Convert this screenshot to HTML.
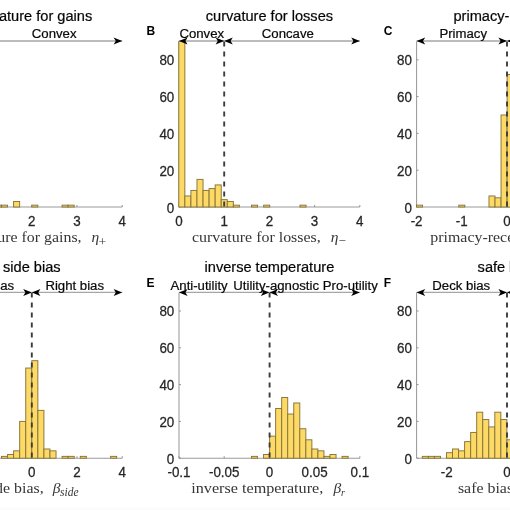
<!DOCTYPE html><html><head><meta charset="utf-8"><style>
html,body{margin:0;padding:0;background:#fff;width:510px;height:510px;overflow:hidden}
svg{display:block;will-change:transform}
text{font-family:"Liberation Sans",sans-serif;fill:#262626}
.tk,.ti,.an{stroke:#262626;stroke-width:0.25}
.tk{font-size:13.4px}
.ti{font-size:14.6px;fill:#000}
.an{font-size:13.2px;fill:#000}
.le{font-size:12.0px;font-weight:bold;fill:#000}
.xl{font-family:"Liberation Serif",serif;font-size:14.6px;fill:#363636}
.sy{font-style:italic;font-size:15.5px}
.sb{font-size:10px}
.bar{fill:#FDDA66;stroke:#86743a;stroke-width:0.95}
.ax{stroke:#9a9a9a;stroke-width:1.1;fill:none}
.ay{stroke:#8a8a8a;stroke-width:0.9;fill:none}
.al{stroke:#a6a6a6;stroke-width:1.3}
.ah{fill:#000}
.ds{stroke:#3c3c3c;stroke-width:1.9;stroke-dasharray:5 5;stroke-dashoffset:0}
</style></head><body>
<svg width="510" height="510" viewBox="0 0 510 510">
<line x1="-58.6" y1="207" x2="122.2" y2="207" class="ax"/>
<line x1="-58.6" y1="207" x2="-58.6" y2="205" class="ax"/>
<line x1="-13.4" y1="207" x2="-13.4" y2="205" class="ax"/>
<line x1="31.8" y1="207" x2="31.8" y2="205" class="ax"/>
<line x1="77" y1="207" x2="77" y2="205" class="ax"/>
<line x1="122.2" y1="207" x2="122.2" y2="205" class="ax"/>
<text transform="translate(-58.6,225.7) scale(1,1.1)" class="tk" text-anchor="middle">0</text>
<text transform="translate(-13.4,225.7) scale(1,1.1)" class="tk" text-anchor="middle">1</text>
<text transform="translate(31.8,225.7) scale(1,1.1)" class="tk" text-anchor="middle">2</text>
<text transform="translate(77,225.7) scale(1,1.1)" class="tk" text-anchor="middle">3</text>
<text transform="translate(122.2,225.7) scale(1,1.1)" class="tk" text-anchor="middle">4</text>
<text transform="translate(-63.3,213.2) scale(1,1.1)" class="tk" text-anchor="end">0</text>
<text transform="translate(-63.3,176) scale(1,1.1)" class="tk" text-anchor="end">20</text>
<text transform="translate(-63.3,138.6) scale(1,1.1)" class="tk" text-anchor="end">40</text>
<text transform="translate(-63.3,101.9) scale(1,1.1)" class="tk" text-anchor="end">60</text>
<text transform="translate(-63.3,65.1) scale(1,1.1)" class="tk" text-anchor="end">80</text>
<rect x="-4.6" y="205.16" width="6.06" height="1.84" class="bar"/>
<rect x="1.46" y="205.16" width="6.06" height="1.84" class="bar"/>
<rect x="13.58" y="201.48" width="6.06" height="5.52" class="bar"/>
<rect x="31.76" y="205.16" width="6.06" height="1.84" class="bar"/>
<rect x="62.06" y="205.16" width="6.06" height="1.84" class="bar"/>
<rect x="68.12" y="205.16" width="6.06" height="1.84" class="bar"/>
<line x1="179" y1="207" x2="359.8" y2="207" class="ax"/>
<line x1="179" y1="207" x2="179" y2="205" class="ax"/>
<line x1="224.2" y1="207" x2="224.2" y2="205" class="ax"/>
<line x1="269.4" y1="207" x2="269.4" y2="205" class="ax"/>
<line x1="314.6" y1="207" x2="314.6" y2="205" class="ax"/>
<line x1="359.8" y1="207" x2="359.8" y2="205" class="ax"/>
<line x1="179" y1="207" x2="179" y2="41.4" class="ay"/>
<line x1="179" y1="207" x2="181" y2="207" class="ay"/>
<line x1="179" y1="170.2" x2="181" y2="170.2" class="ay"/>
<line x1="179" y1="133.4" x2="181" y2="133.4" class="ay"/>
<line x1="179" y1="96.6" x2="181" y2="96.6" class="ay"/>
<line x1="179" y1="59.8" x2="181" y2="59.8" class="ay"/>
<text transform="translate(179,225.7) scale(1,1.1)" class="tk" text-anchor="middle">0</text>
<text transform="translate(224.2,225.7) scale(1,1.1)" class="tk" text-anchor="middle">1</text>
<text transform="translate(269.4,225.7) scale(1,1.1)" class="tk" text-anchor="middle">2</text>
<text transform="translate(314.6,225.7) scale(1,1.1)" class="tk" text-anchor="middle">3</text>
<text transform="translate(359.8,225.7) scale(1,1.1)" class="tk" text-anchor="middle">4</text>
<text transform="translate(174.3,213.2) scale(1,1.1)" class="tk" text-anchor="end">0</text>
<text transform="translate(174.3,176) scale(1,1.1)" class="tk" text-anchor="end">20</text>
<text transform="translate(174.3,138.6) scale(1,1.1)" class="tk" text-anchor="end">40</text>
<text transform="translate(174.3,101.9) scale(1,1.1)" class="tk" text-anchor="end">60</text>
<text transform="translate(174.3,65.1) scale(1,1.1)" class="tk" text-anchor="end">80</text>
<rect x="178.8" y="41.4" width="6.06" height="165.6" class="bar"/>
<rect x="184.86" y="195.96" width="6.06" height="11.04" class="bar"/>
<rect x="190.92" y="190.44" width="6.06" height="16.56" class="bar"/>
<rect x="196.98" y="179.4" width="6.06" height="27.6" class="bar"/>
<rect x="203.04" y="190.44" width="6.06" height="16.56" class="bar"/>
<rect x="209.1" y="188.6" width="6.06" height="18.4" class="bar"/>
<rect x="215.16" y="184.92" width="6.06" height="22.08" class="bar"/>
<rect x="221.22" y="199.64" width="6.06" height="7.36" class="bar"/>
<rect x="227.28" y="201.48" width="6.06" height="5.52" class="bar"/>
<rect x="233.34" y="205.16" width="6.06" height="1.84" class="bar"/>
<rect x="251.52" y="205.16" width="6.06" height="1.84" class="bar"/>
<rect x="263.64" y="205.16" width="6.06" height="1.84" class="bar"/>
<rect x="300" y="205.16" width="6.06" height="1.84" class="bar"/>
<line x1="224.2" y1="41.4" x2="224.2" y2="207" class="ds"/>
<line x1="416.6" y1="207" x2="597.4" y2="207" class="ax"/>
<line x1="416.6" y1="207" x2="416.6" y2="205" class="ax"/>
<line x1="461.8" y1="207" x2="461.8" y2="205" class="ax"/>
<line x1="507" y1="207" x2="507" y2="205" class="ax"/>
<line x1="552.2" y1="207" x2="552.2" y2="205" class="ax"/>
<line x1="597.4" y1="207" x2="597.4" y2="205" class="ax"/>
<line x1="416.6" y1="207" x2="416.6" y2="41.4" class="ay"/>
<line x1="416.6" y1="207" x2="418.6" y2="207" class="ay"/>
<line x1="416.6" y1="170.2" x2="418.6" y2="170.2" class="ay"/>
<line x1="416.6" y1="133.4" x2="418.6" y2="133.4" class="ay"/>
<line x1="416.6" y1="96.6" x2="418.6" y2="96.6" class="ay"/>
<line x1="416.6" y1="59.8" x2="418.6" y2="59.8" class="ay"/>
<text transform="translate(416.6,225.7) scale(1,1.1)" class="tk" text-anchor="middle">-2</text>
<text transform="translate(461.8,225.7) scale(1,1.1)" class="tk" text-anchor="middle">-1</text>
<text transform="translate(507,225.7) scale(1,1.1)" class="tk" text-anchor="middle">0</text>
<text transform="translate(552.2,225.7) scale(1,1.1)" class="tk" text-anchor="middle">1</text>
<text transform="translate(597.4,225.7) scale(1,1.1)" class="tk" text-anchor="middle">2</text>
<text transform="translate(411.9,213.2) scale(1,1.1)" class="tk" text-anchor="end">0</text>
<text transform="translate(411.9,176) scale(1,1.1)" class="tk" text-anchor="end">20</text>
<text transform="translate(411.9,138.6) scale(1,1.1)" class="tk" text-anchor="end">40</text>
<text transform="translate(411.9,101.9) scale(1,1.1)" class="tk" text-anchor="end">60</text>
<text transform="translate(411.9,65.1) scale(1,1.1)" class="tk" text-anchor="end">80</text>
<rect x="416.5" y="205.16" width="6.04" height="1.84" class="bar"/>
<rect x="458.78" y="205.16" width="6.04" height="1.84" class="bar"/>
<rect x="488.98" y="195.96" width="6.04" height="11.04" class="bar"/>
<rect x="495.02" y="197.8" width="6.04" height="9.2" class="bar"/>
<rect x="501.06" y="115" width="6.04" height="92" class="bar"/>
<rect x="507.1" y="74.52" width="6.04" height="132.48" class="bar"/>
<line x1="507" y1="41.4" x2="507" y2="207" class="ds"/>
<line x1="-58.6" y1="458.2" x2="122.2" y2="458.2" class="ax"/>
<line x1="-58.6" y1="458.2" x2="-58.6" y2="456.2" class="ax"/>
<line x1="-13.4" y1="458.2" x2="-13.4" y2="456.2" class="ax"/>
<line x1="31.8" y1="458.2" x2="31.8" y2="456.2" class="ax"/>
<line x1="77" y1="458.2" x2="77" y2="456.2" class="ax"/>
<line x1="122.2" y1="458.2" x2="122.2" y2="456.2" class="ax"/>
<text transform="translate(-58.6,476.9) scale(1,1.1)" class="tk" text-anchor="middle">-4</text>
<text transform="translate(-13.4,476.9) scale(1,1.1)" class="tk" text-anchor="middle">-2</text>
<text transform="translate(31.8,476.9) scale(1,1.1)" class="tk" text-anchor="middle">0</text>
<text transform="translate(77,476.9) scale(1,1.1)" class="tk" text-anchor="middle">2</text>
<text transform="translate(122.2,476.9) scale(1,1.1)" class="tk" text-anchor="middle">4</text>
<text transform="translate(-63.3,464.4) scale(1,1.1)" class="tk" text-anchor="end">0</text>
<text transform="translate(-63.3,427.2) scale(1,1.1)" class="tk" text-anchor="end">20</text>
<text transform="translate(-63.3,389.8) scale(1,1.1)" class="tk" text-anchor="end">40</text>
<text transform="translate(-63.3,353.1) scale(1,1.1)" class="tk" text-anchor="end">60</text>
<text transform="translate(-63.3,316.3) scale(1,1.1)" class="tk" text-anchor="end">80</text>
<rect x="1.5" y="456.36" width="6.06" height="1.84" class="bar"/>
<rect x="7.56" y="454.52" width="6.06" height="3.68" class="bar"/>
<rect x="13.62" y="450.84" width="6.06" height="7.36" class="bar"/>
<rect x="19.68" y="421.4" width="6.06" height="36.8" class="bar"/>
<rect x="25.74" y="368.04" width="6.06" height="90.16" class="bar"/>
<rect x="31.8" y="360.68" width="6.06" height="97.52" class="bar"/>
<rect x="37.86" y="410.36" width="6.06" height="47.84" class="bar"/>
<rect x="43.92" y="449" width="6.06" height="9.2" class="bar"/>
<rect x="49.98" y="450.84" width="6.06" height="7.36" class="bar"/>
<rect x="62.1" y="456.36" width="6.06" height="1.84" class="bar"/>
<rect x="68.16" y="456.36" width="6.06" height="1.84" class="bar"/>
<rect x="80.28" y="456.36" width="6.06" height="1.84" class="bar"/>
<rect x="110.58" y="456.36" width="6.06" height="1.84" class="bar"/>
<line x1="31.8" y1="292.6" x2="31.8" y2="458.2" class="ds"/>
<line x1="179" y1="458.2" x2="359.8" y2="458.2" class="ax"/>
<line x1="179" y1="458.2" x2="179" y2="456.2" class="ax"/>
<line x1="224.2" y1="458.2" x2="224.2" y2="456.2" class="ax"/>
<line x1="269.4" y1="458.2" x2="269.4" y2="456.2" class="ax"/>
<line x1="314.6" y1="458.2" x2="314.6" y2="456.2" class="ax"/>
<line x1="359.8" y1="458.2" x2="359.8" y2="456.2" class="ax"/>
<line x1="179" y1="458.2" x2="179" y2="292.6" class="ay"/>
<line x1="179" y1="458.2" x2="181" y2="458.2" class="ay"/>
<line x1="179" y1="421.4" x2="181" y2="421.4" class="ay"/>
<line x1="179" y1="384.6" x2="181" y2="384.6" class="ay"/>
<line x1="179" y1="347.8" x2="181" y2="347.8" class="ay"/>
<line x1="179" y1="311" x2="181" y2="311" class="ay"/>
<text transform="translate(179,476.9) scale(1,1.1)" class="tk" text-anchor="middle">-0.1</text>
<text transform="translate(224.2,476.9) scale(1,1.1)" class="tk" text-anchor="middle">-0.05</text>
<text transform="translate(269.4,476.9) scale(1,1.1)" class="tk" text-anchor="middle">0</text>
<text transform="translate(314.6,476.9) scale(1,1.1)" class="tk" text-anchor="middle">0.05</text>
<text transform="translate(359.8,476.9) scale(1,1.1)" class="tk" text-anchor="middle">0.1</text>
<text transform="translate(174.3,464.4) scale(1,1.1)" class="tk" text-anchor="end">0</text>
<text transform="translate(174.3,427.2) scale(1,1.1)" class="tk" text-anchor="end">20</text>
<text transform="translate(174.3,389.8) scale(1,1.1)" class="tk" text-anchor="end">40</text>
<text transform="translate(174.3,353.1) scale(1,1.1)" class="tk" text-anchor="end">60</text>
<text transform="translate(174.3,316.3) scale(1,1.1)" class="tk" text-anchor="end">80</text>
<rect x="251.48" y="456.36" width="6.04" height="1.84" class="bar"/>
<rect x="263.56" y="454.52" width="6.04" height="3.68" class="bar"/>
<rect x="269.6" y="436.12" width="6.04" height="22.08" class="bar"/>
<rect x="275.64" y="408.52" width="6.04" height="49.68" class="bar"/>
<rect x="281.68" y="397.48" width="6.04" height="60.72" class="bar"/>
<rect x="287.72" y="414.04" width="6.04" height="44.16" class="bar"/>
<rect x="293.76" y="403" width="6.04" height="55.2" class="bar"/>
<rect x="299.8" y="428.76" width="6.04" height="29.44" class="bar"/>
<rect x="305.84" y="439.8" width="6.04" height="18.4" class="bar"/>
<rect x="311.88" y="449" width="6.04" height="9.2" class="bar"/>
<rect x="317.92" y="450.84" width="6.04" height="7.36" class="bar"/>
<rect x="323.96" y="456.36" width="6.04" height="1.84" class="bar"/>
<rect x="330" y="454.52" width="6.04" height="3.68" class="bar"/>
<rect x="342.08" y="456.36" width="6.04" height="1.84" class="bar"/>
<line x1="269.6" y1="292.6" x2="269.6" y2="458.2" class="ds"/>
<line x1="416.6" y1="458.2" x2="597.4" y2="458.2" class="ax"/>
<line x1="446.73" y1="458.2" x2="446.73" y2="456.2" class="ax"/>
<line x1="507" y1="458.2" x2="507" y2="456.2" class="ax"/>
<line x1="567.27" y1="458.2" x2="567.27" y2="456.2" class="ax"/>
<line x1="416.6" y1="458.2" x2="416.6" y2="292.6" class="ay"/>
<line x1="416.6" y1="458.2" x2="418.6" y2="458.2" class="ay"/>
<line x1="416.6" y1="421.4" x2="418.6" y2="421.4" class="ay"/>
<line x1="416.6" y1="384.6" x2="418.6" y2="384.6" class="ay"/>
<line x1="416.6" y1="347.8" x2="418.6" y2="347.8" class="ay"/>
<line x1="416.6" y1="311" x2="418.6" y2="311" class="ay"/>
<text transform="translate(446.73,476.9) scale(1,1.1)" class="tk" text-anchor="middle">-2</text>
<text transform="translate(507,476.9) scale(1,1.1)" class="tk" text-anchor="middle">0</text>
<text transform="translate(567.27,476.9) scale(1,1.1)" class="tk" text-anchor="middle">2</text>
<text transform="translate(411.9,464.4) scale(1,1.1)" class="tk" text-anchor="end">0</text>
<text transform="translate(411.9,427.2) scale(1,1.1)" class="tk" text-anchor="end">20</text>
<text transform="translate(411.9,389.8) scale(1,1.1)" class="tk" text-anchor="end">40</text>
<text transform="translate(411.9,353.1) scale(1,1.1)" class="tk" text-anchor="end">60</text>
<text transform="translate(411.9,316.3) scale(1,1.1)" class="tk" text-anchor="end">80</text>
<rect x="422.34" y="456.36" width="6.04" height="1.84" class="bar"/>
<rect x="428.38" y="456.36" width="6.04" height="1.84" class="bar"/>
<rect x="434.42" y="456.36" width="6.04" height="1.84" class="bar"/>
<rect x="446.5" y="452.68" width="6.04" height="5.52" class="bar"/>
<rect x="452.54" y="449" width="6.04" height="9.2" class="bar"/>
<rect x="458.58" y="450.84" width="6.04" height="7.36" class="bar"/>
<rect x="464.62" y="441.64" width="6.04" height="16.56" class="bar"/>
<rect x="470.66" y="432.44" width="6.04" height="25.76" class="bar"/>
<rect x="476.7" y="412.2" width="6.04" height="46" class="bar"/>
<rect x="482.74" y="419.56" width="6.04" height="38.64" class="bar"/>
<rect x="488.78" y="426.92" width="6.04" height="31.28" class="bar"/>
<rect x="494.82" y="412.2" width="6.04" height="46" class="bar"/>
<rect x="500.86" y="419.56" width="6.04" height="38.64" class="bar"/>
<rect x="506.9" y="439.8" width="6.04" height="18.4" class="bar"/>
<line x1="507" y1="292.6" x2="507" y2="458.2" class="ds"/>
<line x1="-13.4" y1="41" x2="122.2" y2="41" class="al"/>
<path d="M-13.4,41 L-4.8,37.5 L-7,41 L-4.8,44.5 Z" class="ah"/>
<path d="M122.2,41 L113.6,37.5 L115.8,41 L113.6,44.5 Z" class="ah"/>
<line x1="179" y1="41" x2="224.2" y2="41" class="al"/>
<path d="M179,41 L187.6,37.5 L185.4,41 L187.6,44.5 Z" class="ah"/>
<path d="M224.2,41 L215.6,37.5 L217.8,41 L215.6,44.5 Z" class="ah"/>
<line x1="224.2" y1="41" x2="359.8" y2="41" class="al"/>
<path d="M224.2,41 L232.8,37.5 L230.6,41 L232.8,44.5 Z" class="ah"/>
<path d="M359.8,41 L351.2,37.5 L353.4,41 L351.2,44.5 Z" class="ah"/>
<line x1="416.6" y1="41" x2="507" y2="41" class="al"/>
<path d="M416.6,41 L425.2,37.5 L423,41 L425.2,44.5 Z" class="ah"/>
<path d="M507,41 L498.4,37.5 L500.6,41 L498.4,44.5 Z" class="ah"/>
<line x1="507" y1="41" x2="597.4" y2="41" class="al"/>
<path d="M507,41 L515.6,37.5 L513.4,41 L515.6,44.5 Z" class="ah"/>
<path d="M597.4,41 L588.8,37.5 L591,41 L588.8,44.5 Z" class="ah"/>
<line x1="-58.6" y1="292.4" x2="31.8" y2="292.4" class="al"/>
<path d="M-58.6,292.4 L-50,288.9 L-52.2,292.4 L-50,295.9 Z" class="ah"/>
<path d="M31.8,292.4 L23.2,288.9 L25.4,292.4 L23.2,295.9 Z" class="ah"/>
<line x1="31.8" y1="292.4" x2="122.2" y2="292.4" class="al"/>
<path d="M31.8,292.4 L40.4,288.9 L38.2,292.4 L40.4,295.9 Z" class="ah"/>
<path d="M122.2,292.4 L113.6,288.9 L115.8,292.4 L113.6,295.9 Z" class="ah"/>
<line x1="179" y1="292.4" x2="269.4" y2="292.4" class="al"/>
<path d="M179,292.4 L187.6,288.9 L185.4,292.4 L187.6,295.9 Z" class="ah"/>
<path d="M269.4,292.4 L260.8,288.9 L263,292.4 L260.8,295.9 Z" class="ah"/>
<line x1="269.4" y1="292.4" x2="359.8" y2="292.4" class="al"/>
<path d="M269.4,292.4 L278,288.9 L275.8,292.4 L278,295.9 Z" class="ah"/>
<path d="M359.8,292.4 L351.2,288.9 L353.4,292.4 L351.2,295.9 Z" class="ah"/>
<line x1="416.6" y1="292.4" x2="507" y2="292.4" class="al"/>
<path d="M416.6,292.4 L425.2,288.9 L423,292.4 L425.2,295.9 Z" class="ah"/>
<path d="M507,292.4 L498.4,288.9 L500.6,292.4 L498.4,295.9 Z" class="ah"/>
<line x1="507" y1="292.4" x2="597.4" y2="292.4" class="al"/>
<path d="M507,292.4 L515.6,288.9 L513.4,292.4 L515.6,295.9 Z" class="ah"/>
<path d="M597.4,292.4 L588.8,288.9 L591,292.4 L588.8,295.9 Z" class="ah"/>
<text transform="translate(31.8,21.2) scale(1.0,0.96)" class="ti" text-anchor="middle">curvature for gains</text>
<text transform="translate(269.4,21.2) scale(1.0,0.96)" class="ti" text-anchor="middle">curvature for losses</text>
<text transform="translate(507,21.2) scale(1.0,0.96)" class="ti" text-anchor="middle">primacy-recency</text>
<text transform="translate(31.8,272.4) scale(1.0,0.96)" class="ti" text-anchor="middle">side bias</text>
<text transform="translate(269.4,272.4) scale(1.0,0.96)" class="ti" text-anchor="middle">inverse temperature</text>
<text transform="translate(477.6,272.4) scale(1.0,0.96)" class="ti">safe</text>
<text transform="translate(509,272.4) scale(1.0,0.96)" class="ti">bias</text>
<text transform="translate(146.6,35.3) scale(1.0,1.0)" class="le">B</text>
<text transform="translate(383.8,35.3) scale(1.0,1.0)" class="le">C</text>
<text transform="translate(146.6,286.8) scale(1.0,1.0)" class="le">E</text>
<text transform="translate(383.8,286.8) scale(1.0,1.0)" class="le">F</text>
<text transform="translate(31.8,38) scale(1.0,0.93)" class="an">Convex</text>
<text transform="translate(179.4,38) scale(1.0,0.93)" class="an">Convex</text>
<text transform="translate(261.8,38) scale(1.0,0.93)" class="an">Concave</text>
<text transform="translate(439.4,38) scale(1.0,0.93)" class="an">Primacy</text>
<text transform="translate(14.1,289.8) scale(1.0,0.93)" class="an" text-anchor="end">Left bias</text>
<text transform="translate(45.4,289.8) scale(1.0,0.93)" class="an">Right bias</text>
<text transform="translate(170.5,289.8) scale(1.0,0.93)" class="an">Anti-utility</text>
<text transform="translate(233.3,289.8) scale(1.0,0.93)" class="an">Utility-agnostic</text>
<text transform="translate(322.8,289.8) scale(1.0,0.93)" class="an">Pro-utility</text>
<text transform="translate(432.3,289.8) scale(1.0,0.93)" class="an">Deck bias</text>
<text transform="translate(81.6,241.7) scale(1.09,1)" class="xl" text-anchor="end">curvature for gains,</text>
<text x="91.6" y="241.7" class="xl sy">η</text>
<text x="98.5" y="245.7" class="xl sb"><tspan font-size="13.5">+</tspan></text>
<text transform="translate(320.8,241.7) scale(1.093,1)" class="xl" text-anchor="end">curvature for losses,</text>
<text x="330.7" y="241.7" class="xl sy">η</text>
<text x="338.6" y="245" class="xl sb"><tspan font-size="13">−</tspan></text>
<text transform="translate(430.3,241.7) scale(1.09,1)" class="xl">primacy-recency bias,</text>
<text transform="translate(43.7,493.3) scale(1.09,1)" class="xl" text-anchor="end">side bias,</text>
<text x="52.8" y="493.3" class="xl sy">β</text>
<text x="60" y="495.9" class="xl sb" font-style="italic"><tspan font-size="11.5">side</tspan></text>
<text transform="translate(323.3,493.3) scale(1.109,1)" class="xl" text-anchor="end">inverse temperature,</text>
<text x="333.5" y="493.3" class="xl sy">β</text>
<text x="341" y="495.9" class="xl sb" font-style="italic">r</text>
<text transform="translate(457.9,493.3) scale(1.09,1)" class="xl">safe bias,</text>
<rect x="0" y="507.5" width="510" height="2.5" fill="#fcfcfc"/>
</svg></body></html>
